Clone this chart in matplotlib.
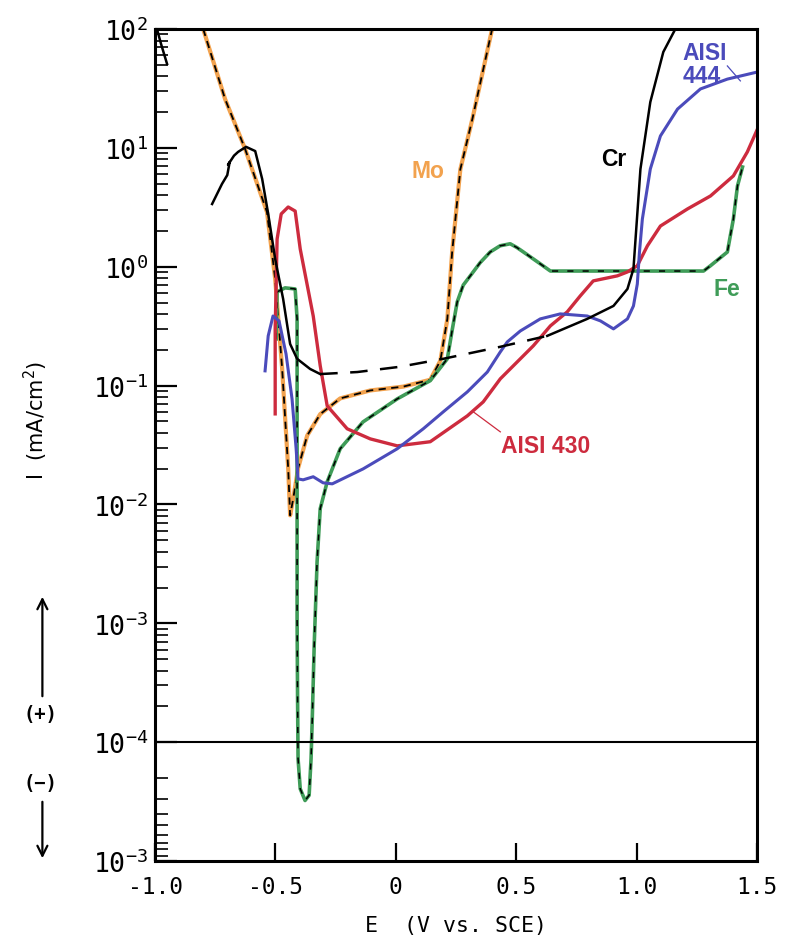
import numpy as np
import matplotlib
matplotlib.use("Agg")
import matplotlib.pyplot as plt
from matplotlib.ticker import FixedLocator, FixedFormatter

plt.rcParams['mathtext.fontset'] = 'custom'
plt.rcParams['mathtext.rm'] = 'DejaVu Sans Mono'
plt.rcParams['mathtext.it'] = 'DejaVu Sans Mono'
plt.rcParams['mathtext.bf'] = 'DejaVu Sans Mono:bold'

# ---------------- data (E in V vs SCE, I in mA/cm^2, negative = cathodic) ----------------
mo_e = [-0.800, -0.709, -0.626, -0.535, -0.501, -0.472, -0.447, -0.439, -0.426, -0.406,
        -0.368, -0.314, -0.231, -0.106, 0.031, 0.143, 0.185, 0.214, 0.234, 0.268, 0.318, 0.400]
mo_i = [100, 25.7, 9.8, 2.88, 0.79, 0.138, 0.0201, 0.0081, 0.0112, 0.0201,
        0.038, 0.0575, 0.078, 0.091, 0.098, 0.112, 0.162, 0.363, 1.33, 6.6, 17.5, 100]

cr_top_e = [-0.992, -0.975, -0.950]
cr_top_i = [100, 74.8, 50.8]
cr_e = [-0.763, -0.722, -0.700, -0.690, -0.697, -0.672, -0.655, -0.622, -0.584, -0.555,
        -0.530, -0.501, -0.468, -0.439, -0.410, -0.356, -0.314, -0.160, 0.018, 0.197,
        0.434, 0.629, 0.795, 0.904, 0.962, 0.987, 1.016, 1.057, 1.111, 1.161]
cr_i = [3.37, 4.97, 5.9, 7.6, 7.2, 8.6, 9.25, 10.2, 9.4, 5.47,
        2.78, 1.16, 0.536, 0.224, 0.168, 0.138, 0.125, 0.130, 0.144, 0.168,
        0.212, 0.262, 0.364, 0.468, 0.650, 0.96, 6.64, 24.3, 64.1, 100]

a430_e = [-0.501, -0.501, -0.493, -0.476, -0.447, -0.418, -0.397, -0.343, -0.314, -0.285,
          -0.202, -0.106, 0.006, 0.143, 0.297, 0.363, 0.434, 0.571, 0.642, 0.712,
          0.766, 0.820, 0.920, 0.962, 1.003, 1.045, 1.099, 1.211, 1.307, 1.402, 1.460, 1.502]
a430_i = [0.0578, 0.300, 1.71, 2.78, 3.18, 2.94, 1.41, 0.385, 0.147, 0.0675,
          0.0433, 0.0356, 0.0311, 0.0337, 0.0556, 0.0729, 0.114, 0.216, 0.318, 0.417,
          0.568, 0.760, 0.838, 0.904, 1.02, 1.50, 2.20, 3.06, 3.94, 5.81, 9.25, 14.4]

a444_e = [-0.543, -0.530, -0.510, -0.485, -0.456, -0.431, -0.414, -0.406, -0.385, -0.343,
          -0.302, -0.264, -0.136, 0.006, 0.114, 0.197, 0.297, 0.380, 0.434, 0.463,
          0.517, 0.600, 0.683, 0.795, 0.850, 0.904, 0.962, 0.987, 1.003, 1.012,
          1.024, 1.057, 1.099, 1.170, 1.265, 1.377, 1.502]
a444_i = [0.133, 0.262, 0.385, 0.350, 0.185, 0.0773, 0.0294, 0.0164, 0.0161, 0.0171,
          0.0152, 0.0149, 0.0199, 0.0294, 0.0433, 0.0601, 0.0885, 0.130, 0.192, 0.233,
          0.288, 0.364, 0.401, 0.385, 0.350, 0.300, 0.364, 0.468, 0.716, 1.33,
          2.52, 6.64, 12.6, 21.2, 31.3, 37.9, 43.5]

fe_e = [-0.497, -0.493, -0.460, -0.418, -0.410, -0.410, -0.410, -0.410, -0.408, -0.406,
        -0.397, -0.377, -0.360, -0.352, -0.347, -0.339, -0.327, -0.314, -0.285, -0.231,
        -0.136, 0.006, 0.143, 0.214, 0.235, 0.255, 0.280, 0.309, 0.350, 0.392, 0.433,
        0.475, 0.503, 0.530, 0.588, 0.642, 0.712, 0.998, 1.278, 1.307, 1.377, 1.402, 1.419, 1.440]
fe_i = [0.247, 0.614, 0.664, 0.650, 0.364, 0.0525, 0.0076, 0.00109, 2.3e-4, -1.38e-4,
        -2.47e-4, -3.1e-4, -2.8e-4, -1.38e-4, 1.57e-4, 6.5e-4, 3.29e-3, 9.2e-3, 0.0155, 0.0294,
        0.0495, 0.0773, 0.110, 0.168, 0.30, 0.506, 0.70, 0.837, 1.08, 1.33, 1.50,
        1.56, 1.45, 1.33, 1.10, 0.92, 0.92, 0.92, 0.92, 1.02, 1.33, 2.52, 4.78, 6.9]

x_ticks = [-1.0, -0.5, 0.0, 0.5, 1.0, 1.5]
x_labels = ['-1.0', '-0.5', '0', '0.5', '1.0', '1.5']
y_ticks = [100, 10, 1, 0.1, 0.01, 1e-3, 1e-4, -1e-3]
y_labels = ['10$^{2}$', '10$^{1}$', '10$^{0}$', '10$^{-1}$', '10$^{-2}$',
            '10$^{-3}$', '10$^{-4}$', '10$^{-3}$']

# ---------------- split log scale: (+) above 1e-4, (-) below ----------------
def fwd(y):
    y = np.asarray(y, dtype=float)
    pos = np.log10(np.clip(y, 1e-4, None))
    neg = -8.0 - np.log10(np.clip(-y, 1e-4, None))
    return np.where(y >= 0, pos, neg)

def inv(t):
    t = np.asarray(t, dtype=float)
    return np.where(t >= -4, 10.0 ** np.clip(t, -4, None), -10.0 ** (-8.0 - np.clip(t, None, -4)))

C_MO = '#f2a24e'
C_RED = '#cd2b3e'
C_BLUE = '#4b4bbb'
C_GREEN = '#3f9c58'

fig = plt.figure(figsize=(7.85, 9.53), dpi=100)
ax = fig.add_axes([0.1975, 0.0955, 0.7668, 0.873])
ax.set_yscale('function', functions=(fwd, inv))

# curves
ax.plot(mo_e, mo_i, color=C_MO, lw=3.0, solid_capstyle='round')
ax.plot(mo_e, mo_i, color='black', lw=1.3, dashes=(4, 3))

ax.plot(fe_e, fe_i, color=C_GREEN, lw=2.6)
ax.plot(fe_e, fe_i, color='black', lw=1.1, dashes=(4, 6))

ax.plot(a430_e, a430_i, color=C_RED, lw=2.4)
ax.plot(a444_e, a444_i, color=C_BLUE, lw=2.2)

ax.plot(cr_top_e, cr_top_i, color='black', lw=1.8)
i0, i1 = 16, 21
ax.plot(cr_e[:i0 + 1], cr_i[:i0 + 1], color='black', lw=1.8)
ax.plot(cr_e[i0:i1 + 1], cr_i[i0:i1 + 1], color='black', lw=1.8, dashes=(7, 5))
ax.plot(cr_e[i1:], cr_i[i1:], color='black', lw=1.8)

ax.axhline(1e-4, color='black', lw=1.5)

# labels of curves
lab_kw = dict(fontsize=16.5, fontweight='bold', family='Liberation Sans')
ax.text(0.135, 6.4, 'Mo', color=C_MO, ha='center', va='center', **lab_kw)
ax.text(0.905, 8.07, 'Cr', color='black', ha='center', va='center', **lab_kw)
ax.text(1.19, 50.8, 'AISI\n444', color=C_BLUE, ha='left', va='center', linespacing=1.05, **lab_kw)
ax.plot([1.377, 1.431], [48.9, 36.6], color=C_BLUE, lw=0.9)
ax.text(1.377, 0.65, 'Fe', color=C_GREEN, ha='center', va='center', **lab_kw)
ax.text(0.621, 0.0311, 'AISI 430', color=C_RED, ha='center', va='center', **lab_kw)
ax.plot([0.434, 0.322], [0.0408, 0.0601], color=C_RED, lw=0.9)

# axes
ax.set_xlim(-1.0, 1.5)
ax.set_ylim(-1e-3, 100)
ax.set_xticks(x_ticks)
ax.set_xticklabels(x_labels)
ax.yaxis.set_major_locator(FixedLocator(y_ticks))
ax.yaxis.set_major_formatter(FixedFormatter(y_labels))
minor = [m * 10.0 ** k for k in range(-4, 2) for m in range(2, 10)] + [-m * 1e-4 for m in range(2, 10)]
ax.yaxis.set_minor_locator(FixedLocator(minor))
ax.xaxis.set_minor_locator(FixedLocator([]))

for s in ax.spines.values():
    s.set_linewidth(2.2)
ax.tick_params(axis='y', which='major', direction='in', length=16, width=1.6, pad=5,
               labelsize=19, left=True, right=False)
ax.tick_params(axis='y', which='minor', direction='in', length=9, width=1.2, left=True, right=False)
ax.tick_params(axis='x', which='major', direction='in', length=13, width=1.6, pad=10,
               labelsize=16.5, top=False)
for lab in ax.get_xticklabels() + ax.get_yticklabels():
    lab.set_family('DejaVu Sans Mono')

ax.set_xlabel('E  (V vs. SCE)', family='DejaVu Sans Mono', fontsize=15.5, labelpad=12)

fig.text(0.046, 0.559, 'I  (mA/cm$^{2}$)', rotation=90, fontsize=15, family='DejaVu Sans',
         ha='center', va='center')
fig.text(0.052, 1 - 715 / 953, '(+)', fontsize=13.5, family='DejaVu Sans Mono',
         ha='center', va='center', fontweight='bold')
fig.text(0.052, 1 - 783 / 953, '(\u2212)', fontsize=13.5, family='DejaVu Sans Mono',
         ha='center', va='center', fontweight='bold')
fig.add_artist(matplotlib.patches.FancyArrowPatch((0.054, 1 - 700 / 953), (0.054, 1 - 595 / 953),
               transform=fig.transFigure, arrowstyle='->', mutation_scale=18, lw=1.6, color='black'))
fig.add_artist(matplotlib.patches.FancyArrowPatch((0.054, 1 - 800 / 953), (0.054, 1 - 862 / 953),
               transform=fig.transFigure, arrowstyle='->', mutation_scale=18, lw=1.6, color='black'))

fig.savefig('out.png', dpi=100, facecolor='white')
